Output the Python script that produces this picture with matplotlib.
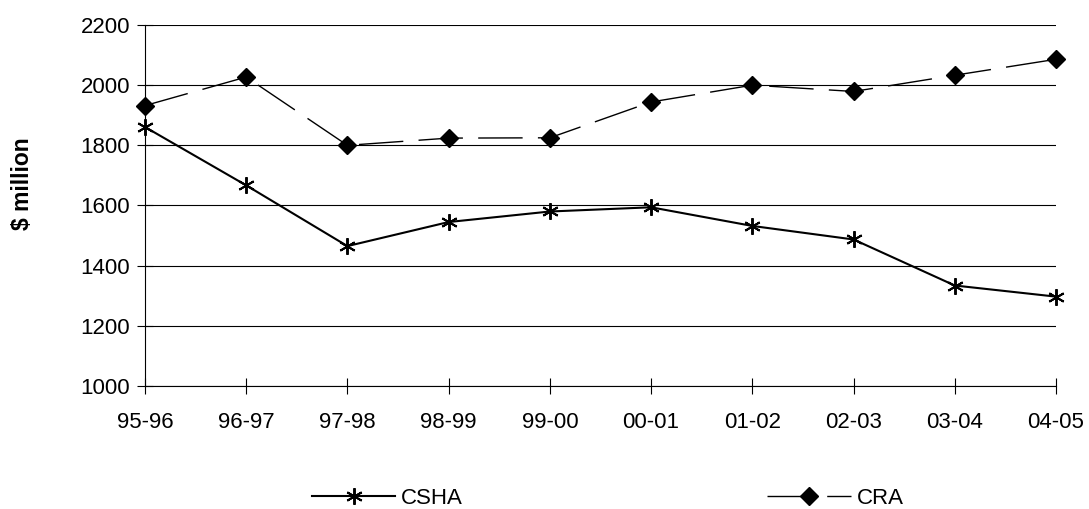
import matplotlib.pyplot as plt

plt.rcParams['font.family'] = ['Liberation Sans', 'DejaVu Sans']

# financial years and spending ($ million)
years = ['95-96', '96-97', '97-98', '98-99', '99-00',
         '00-01', '01-02', '02-03', '03-04', '04-05']
csha = [1861, 1667, 1465, 1545, 1580, 1594, 1532, 1487, 1334, 1297]
cra = [1932, 2027, 1800, 1824, 1825, 1944, 2000, 1979, 2033, 2086]
y_ticks = [1000, 1200, 1400, 1600, 1800, 2000, 2200]

fig = plt.figure(figsize=(10.89, 5.09), dpi=100)
ax = fig.add_axes([0.1331, 0.2417, 0.8366, 0.7092])

x = list(range(len(years)))

ax.plot(x, csha, color='black', lw=1.5, marker=(6, 2, 0), markersize=12,
        markeredgewidth=1.4, label='CSHA', clip_on=False, zorder=3)
ax.plot(x, cra, color='black', lw=1.0, ls=(0, (32, 11)), marker='D',
        markersize=9, label='CRA', clip_on=False, zorder=3)

ax.set_xlim(0, len(years) - 1)
ax.set_ylim(y_ticks[0], y_ticks[-1])
ax.set_xticks(x)
ax.set_xticklabels(years)
ax.set_yticks(y_ticks)

# horizontal grid in plain black
ax.grid(axis='y', color='black', lw=0.8)
ax.set_axisbelow(True)

for side in ['top', 'right']:
    ax.spines[side].set_visible(False)
for side in ['left', 'bottom']:
    ax.spines[side].set_linewidth(0.8)

ax.tick_params(axis='both', direction='inout', length=11, width=0.8,
               labelsize=16)
ax.tick_params(axis='y', pad=5)
ax.tick_params(axis='x', pad=13)

fig.text(23 / 1089, 1 - 184 / 509, '$ million', rotation=90, fontsize=16.5,
         fontweight='bold', ha='center', va='center')

fig.legend(loc='center left', bbox_to_anchor=(312 / 1089, 11 / 509),
           ncol=2, frameon=False, fontsize=16, borderpad=0, borderaxespad=0,
           handlelength=3.74, handletextpad=0.27, columnspacing=13.7)

fig.savefig('out.png', dpi=100)
